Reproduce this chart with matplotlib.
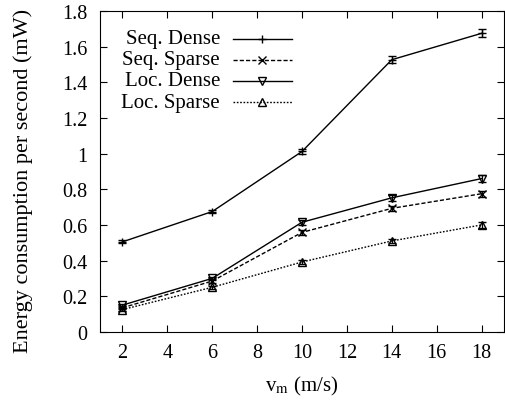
import numpy as np
import matplotlib
matplotlib.use('Agg')
import matplotlib.pyplot as plt

plt.rcParams['font.family'] = ['Liberation Serif', 'DejaVu Serif']
plt.rcParams['mathtext.fontset'] = 'stix'

# data
vm = [2, 6, 10, 14, 18]
seq_dense = [0.505, 0.675, 1.012, 1.527, 1.675]
seq_sparse = [0.135, 0.285, 0.558, 0.693, 0.775]
loc_dense = [0.15, 0.30, 0.615, 0.752, 0.86]
loc_sparse = [0.125, 0.25, 0.392, 0.51, 0.60]
err_seq_dense = [0.008, 0.010, 0.015, 0.020, 0.022]
err_seq_sparse = [0.008, 0.010, 0.015, 0.015, 0.018]
err_loc_dense = [0.008, 0.010, 0.015, 0.018, 0.020]
err_loc_sparse = [0.008, 0.010, 0.010, 0.012, 0.015]
labels = ['Seq. Dense', 'Seq. Sparse', 'Loc. Dense', 'Loc. Sparse']

fig = plt.figure(figsize=(5.05, 4.02), dpi=100)
ax = fig.add_axes([0.198, 0.172, 0.800, 0.798])

styles = [
    dict(ls='-', marker='+', mfc='black'),
    dict(ls=(0, (3, 1.5)), marker='x', mfc='black'),
    dict(ls='-', marker='v', mfc='none'),
    dict(ls=(0, (1.2, 1.2)), marker='^', mfc='none'),
]
series = [seq_dense, seq_sparse, loc_dense, loc_sparse]
errs = [err_seq_dense, err_seq_sparse, err_loc_dense, err_loc_sparse]

for y, e, st in zip(series, errs, styles):
    ax.errorbar(vm, y, yerr=e, color='black', lw=1.0, ls=st['ls'], marker=st['marker'],
                mfc=st['mfc'], mec='black', mew=1.0, ms=6,
                capsize=3, elinewidth=0.9, capthick=0.9)

# gnuplot-style key: right-aligned text, sample line on the right
key_rows = [0.914, 0.848, 0.782, 0.716]
for row, st, lab in zip(key_rows, styles, labels):
    ax.text(0.297, row, lab, transform=ax.transAxes, ha='right', va='center',
            fontsize=15)
    ax.plot([0.329, 0.475], [row, row], transform=ax.transAxes, color='black',
            lw=1.0, ls=st['ls'])
    ax.plot([0.402], [row], transform=ax.transAxes, color='black', ls='none',
            marker=st['marker'], mfc=st['mfc'], mec='black', mew=1.0, ms=5.5)

ax.set_xlim(1, 19)
ax.set_ylim(0, 1.8)
ax.set_xticks(np.arange(2, 19, 2))
ax.set_yticks(np.arange(0, 1.81, 0.2))
ax.set_yticklabels(['0', '0.2', '0.4', '0.6', '0.8', '1', '1.2', '1.4', '1.6', '1.8'])
ax.tick_params(direction='in', top=True, right=True, labelsize=14.5, length=5)
ax.tick_params(axis='x', pad=8)
ax.tick_params(axis='y', pad=9)
ax.set_xlabel(r'v$_{\rm m}$ (m/s)', fontsize=15, labelpad=9)
ax.set_ylabel('Energy consumption per second (mW)', fontsize=16)
ax.yaxis.set_label_coords(-0.166, 0.473)

fig.savefig('out.png', dpi=100)
